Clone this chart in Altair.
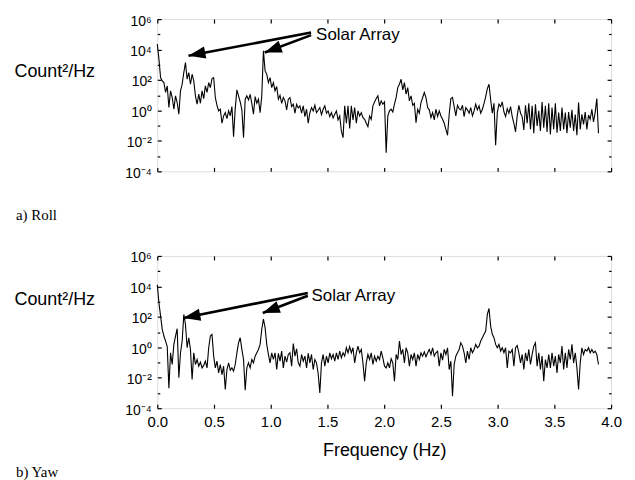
import altair as alt
import pandas as pd

SANS = "Liberation Sans"
SERIF = "Liberation Serif"

# spectral resolution (Hz between points)
F_STEP = 0.01462

# log10 of power spectral density (Count^2/Hz)
ROLL_LOG = [
    4.36, 3.37, 2.16, 1.94, 1.83, 1.18, 1.61, 0.19, 1.29, 0.85,
    0.08, 0.96, 0.52, -0.25, 1.29, 1.72, 2.49, 3.15, 2.05, 2.49,
    1.72, 2.38, 1.94, 0.96, 0.41, 1.07, 0.47, 1.29, 0.78, 1.61,
    1.18, 1.83, 1.50, 2.10, 2.16, 0.85, 0.34, -0.03, 0.08, -0.84,
    -0.36, -0.14, -0.54, -0.03, -0.36, 0.25, -1.72, 0.12, 1.35, 0.96,
    0.56, 0.04, -1.79, 0.74, 0.96, 0.70, 1.05, 0.47, -0.25, 0.91,
    0.47, 0.74, -0.14, 0.96, 3.92, 2.60, 2.38, 1.83, 2.16, 1.50,
    1.83, 1.29, 1.57, 0.74, 1.00, 0.47, 0.85, 0.63, 0.04, 0.74,
    0.85, 0.25, 0.41, -0.18, 0.41, 0.17, 0.30, -0.18, 0.30, -0.40,
    0.08, -0.84, -0.14, 0.19, -0.03, 0.34, -0.14, 0.01, 0.19, -0.27,
    0.08, 0.30, -0.18, -0.03, -0.40, -0.14, -0.49, -0.25, -0.03, -0.62,
    -0.36, -1.35, -1.79, 0.30, -0.84, 0.30, -1.19, 0.30, -0.62, 0.19,
    -0.84, -0.03, -0.36, -0.14, -0.47, -0.58, -0.84, -1.06, -0.36, -0.58,
    0.30, 0.56, 0.78, 0.96, 0.30, 0.63, 0.41, 0.56,
    -2.77, -0.36, -0.03, 0.08, -0.10, 0.41, 0.85, 1.50, 1.72, 2.05,
    1.35, 1.83, 1.07, 1.50, 0.63, 0.96, 0.34, 0.47, -0.80, 0.08,
    -0.18, 0.52, 0.85, 1.18, 0.85, 0.19, 0.04, -0.47, -0.14, -0.62,
    0.08, -0.40, -0.03, -0.36, -0.58, -0.84, -1.24, -1.63, -0.25, 0.78,
    0.85, 0.25, -0.36, 0.34, 0.12, 0.04, 0.34, -0.40, 0.19, 0.04,
    -0.18, 0.19, -0.36, -0.03, 0.41, 0.04, 0.30, -0.18, 0.08, 0.47,
    0.91, 1.44, 1.72, 0.70, -0.18, 0.47, -2.29, -0.14, 0.41, 0.25,
    0.56, -0.10, -0.40, 0.12, -0.18, 0.25, -0.40, -0.84, -1.41, -0.36,
    0.34, -0.18, -0.40, -1.28, 0.34, -0.84, 0.47, -1.24, 0.30, -1.50,
    0.41, -1.02, -0.03, -1.35, 0.56, -1.13, 0.30, -1.41, 0.47, -1.57,
    0.19, -1.24, 0.47, -1.46, -0.14, -1.35, 0.19, -1.24, -0.14, -1.50,
    -0.10, -1.13, 0.04, -1.35, -0.27, -1.63, 0.52, -1.24, -0.25, -0.91,
    -0.10, -1.24, -0.30, -0.58, 0.08, -0.75, -0.14, 0.78, -1.50,
]

YAW_LOG = [
    4.10, 2.93, 2.05, 1.18, 0.74, 0.41, 0.04, -2.68, -0.36, -1.13,
    0.19, 0.74, 1.22, -2.00, -0.36, 0.41, 2.16, 1.50, -0.03, 0.63,
    -0.14, -2.11, -0.36, -1.13, -0.80, -1.24, -0.98, -1.35, -1.19, -0.91,
    -1.35, -0.03, 0.74, 0.85, -0.58, -1.35, -0.91, -1.68, -1.13, -1.79,
    -1.24, -2.77, -1.46, -1.02, -1.50, -1.35, -1.57, -1.13, -0.36, 0.30,
    0.63, -0.14, -0.80, -2.82, -1.35, -1.02, -1.35, -0.80, -1.02, -0.58,
    -0.36, -0.14, 0.19, 1.18, 1.86, 1.29, 0.19, -0.47, -1.02, -0.36,
    -0.80, -0.36, -1.46, -0.40, -0.91, -0.25, -1.35, -0.58, -0.98, -0.47,
    -0.36, -1.24, 0.25, -0.58, -0.10, -1.02, -1.24, -0.47, -0.91, -0.58,
    -1.35, -0.40, -1.02, -0.47, -1.46, -0.80, -1.02, -1.72, -3.00, -1.02,
    -0.47, -1.24, -0.58, -1.02, -0.36, -0.75, -0.47, -0.91, -0.36, -0.80,
    -0.25, -0.69, -0.36, -0.58, -0.03, -0.36, 0.04, -0.36, -0.03, -1.02,
    -0.36, 0.08, -0.36, -0.14, -1.02, -2.22, -1.02, -0.47, -0.80, -0.36,
    -1.13, -0.58, -0.91, -0.58, -0.80, -0.25, -0.69, -1.24,
    -1.35, -1.02, -1.35, -0.75, -1.02, -2.22, -0.47, -0.80, 0.41, -0.47,
    -0.14, -1.02, -0.03, -0.36, -1.24, -0.47, -0.80, -0.36, -1.24, -0.47,
    -0.80, -0.36, -0.58, -0.30, -0.62, -0.36, -0.14, -0.47, -0.03, -0.58,
    -0.36, -0.25, -1.24, -0.36, -0.84, -0.14, -0.47, -0.03, -1.46, -0.91,
    -3.22, -1.13, -0.58, -0.36, -0.14, 0.30, 0.08, -0.36, -1.02, -0.25,
    -0.80, -0.03, -0.36, -0.14, 0.19, -0.03, 0.08, 0.41, 0.63, 0.85,
    1.07, 2.16, 2.55, 1.39, 0.85, 0.63, 0.19, -0.03, 0.19, -0.25,
    -0.03, -0.36, -0.03, -1.35, -0.25, -0.36, -0.14, -1.24, -0.03, 0.12,
    -0.36, -1.02, -0.47, -1.46, -0.36, -0.91, -0.14, -1.13, -0.47, 0.08,
    0.30, -1.24, -0.36, -1.46, -0.58, -2.22, -0.80, -1.35, -0.47, -1.35,
    -0.36, -1.24, -0.58, -1.68, -0.47, -1.02, 0.08, -1.46, -0.36, -1.35,
    -0.14, -0.80, 0.19, -1.02, -0.36, -1.35, -2.77, -1.02, -0.03, -0.47,
    -0.14, -0.25, -0.03, -0.36, -0.14, -0.36, -0.25, -0.47, -1.13,
]

X_TICKS = [0.0, 0.5, 1.0, 1.5, 2.0, 2.5, 3.0, 3.5, 4.0]
Y_MAJOR = [-4, -2, 0, 2, 4, 6]
Y_MINOR = [-3, -1, 1, 3, 5]
Y_LABELS = {6: "10⁶", 4: "10⁴", 2: "10²", 0: "10⁰", -2: "10⁻²", -4: "10⁻⁴"}

ANNOT_TEXT = "Solar Array"
# annotation arrows: start (f, log) -> tip (f, log), head angle
ROLL_ARROWS = {"x0": [1.356, 1.356], "y0": [5.12, 4.95],
               "x1": [0.275, 0.947], "y1": [3.59, 3.81], "ang": [259, 250]}
YAW_ARROWS = {"x0": [1.327, 1.327], "y0": [3.57, 3.39],
              "x1": [0.230, 0.930], "y1": [1.92, 2.25], "ang": [259, 249]}
ROLL_TEXT = {"x": [1.40], "y": [4.98], "t": [ANNOT_TEXT]}
YAW_TEXT = {"x": [1.36], "y": [3.38], "t": [ANNOT_TEXT]}

W, H = 456, 153
TS = 4
label_expr = " : ".join(
    f"datum.value == {k} ? '{v}'" for k, v in Y_LABELS.items()) + " : ''"

xs = alt.Scale(domain=[0, 4], nice=False, zero=False)
ys = alt.Scale(domain=[-4, 6], nice=False, zero=False)

COMMON = dict(domain=False, grid=False, tickColor="black", tickWidth=1.2,
              labelColor="black", labelFont=SANS, titleFont=SANS,
              titleColor="black", titleFontWeight="normal")


def panel(vals, arrows, text, plabel, plabel_y, title_y, show_x):
    df = pd.DataFrame({"f": [i * F_STEP for i in range(len(vals))], "p": vals})
    base = alt.Chart(df)

    xk = dict(COMMON, orient="bottom", values=X_TICKS, tickSize=TS, offset=-TS)
    if show_x:
        xk.update(labels=True, format=".1f", labelFontSize=15, labelPadding=6,
                  labelFlush=False, labelOverlap=False, title="Frequency (Hz)",
                  titleFontSize=18, titlePadding=13)
    else:
        xk.update(labels=False, title=None)

    yk = dict(COMMON, orient="left", values=Y_MAJOR, tickSize=TS, offset=-TS,
              labelExpr=label_expr, labelFontSize=14, labelPadding=6,
              labelOffset=2, labelBaseline="middle", labelFlush=False,
              labelOverlap=False, title="Count²/Hz", titleAngle=0,
              titleAlign="left", titleBaseline="middle", titleFontSize=18,
              titleX=13 - 157 - TS, titleY=title_y)

    main = base.mark_line(color="black", strokeWidth=1.1).encode(
        x=alt.X("f:Q", scale=xs, axis=alt.Axis(**xk)),
        y=alt.Y("p:Q", scale=ys, axis=alt.Axis(**yk)),
    )
    mirror = base.mark_line(strokeOpacity=0).encode(
        x=alt.X("f:Q", scale=xs, axis=alt.Axis(**dict(
            COMMON, orient="top", values=X_TICKS, tickSize=TS, offset=-TS,
            labels=False, title=None))),
        y=alt.Y("p:Q", scale=ys, axis=alt.Axis(**dict(
            COMMON, orient="right", values=Y_MAJOR, tickSize=TS, offset=-TS,
            labels=False, title=None))),
    )
    minor_l = base.mark_line(strokeOpacity=0).encode(
        x=alt.X("f:Q", scale=xs, axis=None),
        y=alt.Y("p:Q", scale=ys, axis=alt.Axis(**dict(
            COMMON, orient="left", values=Y_MINOR, tickSize=2.5, offset=-2.5,
            labels=False, title=None))),
    )
    minor_r = base.mark_line(strokeOpacity=0).encode(
        x=alt.X("f:Q", scale=xs, axis=None),
        y=alt.Y("p:Q", scale=ys, axis=alt.Axis(**dict(
            COMMON, orient="right", values=Y_MINOR, tickSize=2.5, offset=-2.5,
            labels=False, title=None))),
    )
    adf = pd.DataFrame(arrows)
    shafts = alt.Chart(adf).mark_rule(color="black", strokeWidth=2.6).encode(
        x=alt.X("x0:Q", scale=xs, axis=None),
        y=alt.Y("y0:Q", scale=ys, axis=None),
        x2="x1:Q", y2="y1:Q",
    )
    heads = alt.Chart(adf).mark_point(
        shape="M0,0L0.65,1.8L-0.65,1.8Z", filled=True, size=360,
        color="black", opacity=1, strokeWidth=0,
    ).encode(
        x=alt.X("x1:Q", scale=xs, axis=None),
        y=alt.Y("y1:Q", scale=ys, axis=None),
        angle=alt.Angle("ang:Q", scale=None),
    )
    ann = alt.Chart(pd.DataFrame(text)).mark_text(
        align="left", baseline="middle", font=SANS, fontSize=17, color="black",
    ).encode(
        x=alt.X("x:Q", scale=xs, axis=None),
        y=alt.Y("y:Q", scale=ys, axis=None),
        text="t:N",
    )
    plab = alt.Chart(pd.DataFrame({"t": [plabel]})).mark_text(
        align="left", baseline="middle", font=SERIF, fontSize=15, color="black",
    ).encode(x=alt.value(15 - 157), y=alt.value(plabel_y), text="t:N")

    return alt.layer(main, mirror, minor_l, minor_r, shafts, heads, ann, plab).resolve_axis(
        x="independent", y="independent"
    ).properties(width=W, height=H)


top = panel(ROLL_LOG, ROLL_ARROWS, ROLL_TEXT, "a)  Roll", 197, 53, False)
bottom = panel(YAW_LOG, YAW_ARROWS, YAW_TEXT, "b)  Yaw", 217, 44, True)

chart = alt.vconcat(top, bottom, spacing=26).properties(
    padding={"left": 5, "top": 4, "right": 5, "bottom": 2}
).configure_view(stroke="black", strokeWidth=1.5).configure(background="white")

chart.save("out.html", embed_options={"renderer": "svg", "actions": False})
